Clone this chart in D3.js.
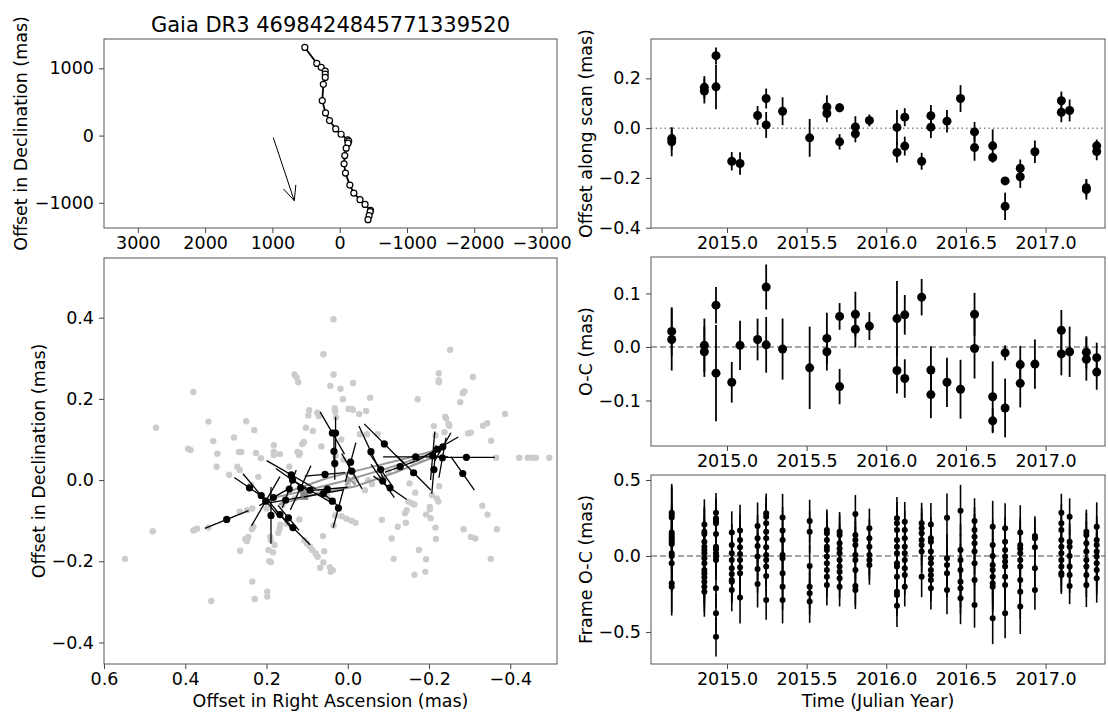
<!DOCTYPE html>
<html>
<head>
<meta charset="utf-8">
<script src="https://cdn.jsdelivr.net/npm/d3@7"></script>
<style>
body{margin:0;background:#fff;}
svg text{font-family:"DejaVu Sans",sans-serif;}
</style>
</head>
<body>
<svg id="chart" width="1108" height="713"></svg>
<script>
//----------data-------------
var sourceName = "Gaia DR3 4698424845771339520";

// sky track (mas)
var trackRA  = [518,340,275,215,215,215,243,259,210,151,59,-21,-118,-134,-124,-97,-76,-65,-86,-151,-210,-302,-377,-458,-453,-437,-421];
var trackDec = [1311,1074,1015,960,915,866,762,519,337,223,99,20,-64,-83,-113,-187,-297,-420,-558,-736,-855,-954,-1024,-1113,-1132,-1191,-1251];
var arrowRA  = [987,675];
var arrowDec = [-30,-969];

// per-observation (two FoV) values
var obsTime = [2014.653,2014.653,2014.858,2014.858,2014.931,2014.931,2015.030,2015.082,2015.192,2015.246,2015.246,2015.349,2015.519,2015.627,2015.627,2015.707,2015.707,2015.806,2015.806,2015.894,2016.067,2016.067,2016.116,2016.116,2016.222,2016.280,2016.280,2016.381,2016.466,2016.554,2016.554,2016.668,2016.668,2016.746,2016.746,2016.841,2016.841,2016.933,2017.099,2017.099,2017.151,2017.256,2017.256,2017.321,2017.321];
var alOffset = [-0.042,-0.055,0.164,0.149,0.291,0.166,-0.133,-0.142,0.051,0.119,0.013,0.068,-0.039,0.085,0.059,0.082,-0.055,0.005,-0.023,0.031,0.003,-0.098,0.044,-0.072,-0.133,0.050,0.004,0.028,0.119,-0.015,-0.078,-0.071,-0.118,-0.212,-0.314,-0.161,-0.195,-0.095,0.110,0.064,0.071,-0.239,-0.247,-0.071,-0.094];
var alError  = [0.045,0.058,0.045,0.05,0.033,0.09,0.037,0.045,0.038,0.04,0.052,0.056,0.076,0.047,0.035,0.018,0.031,0.043,0.034,0.024,0.07,0.04,0.036,0.038,0.034,0.043,0.044,0.045,0.054,0.04,0.053,0.066,0.02,0.01,0.055,0.035,0.045,0.045,0.037,0.04,0.044,0.035,0.04,0.025,0.035];
var ocOffset = [0.029,0.014,0.003,-0.009,0.078,-0.049,-0.066,0.003,0.014,0.112,0.004,-0.004,-0.039,0.016,-0.009,0.057,-0.074,0.061,0.033,0.039,0.053,-0.044,0.060,-0.059,0.093,-0.043,-0.089,-0.066,-0.079,0.061,-0.003,-0.093,-0.138,-0.011,-0.114,-0.033,-0.068,-0.032,0.031,-0.013,-0.009,-0.010,-0.023,-0.020,-0.047];
var ocError  = [0.045,0.058,0.05,0.047,0.034,0.09,0.038,0.046,0.039,0.042,0.052,0.057,0.077,0.048,0.035,0.025,0.033,0.042,0.034,0.026,0.07,0.043,0.037,0.036,0.034,0.044,0.044,0.046,0.055,0.04,0.056,0.066,0.023,0.014,0.055,0.035,0.045,0.046,0.038,0.04,0.047,0.03,0.04,0.028,0.033];

// per-epoch frame residuals
var epochTime = [2014.653,2014.858,2014.931,2015.030,2015.082,2015.192,2015.246,2015.349,2015.519,2015.627,2015.707,2015.806,2015.894,2016.067,2016.116,2016.222,2016.280,2016.381,2016.466,2016.554,2016.668,2016.746,2016.841,2016.933,2017.099,2017.151,2017.256,2017.321];
var frameOC = [
 [0.285,0.27,0.254,0.154,0.138,0.123,0.105,0.092,0.079,0.018,0,-0.048,-0.18,-0.202],
 [0.208,0.16,0.145,0.094,0.061,0.04,0.018,-0.015,-0.048,-0.092,-0.114,-0.14,-0.169,-0.202,-0.235],
 [0.285,0.248,0.232,0.215,0.145,0.061,0.044,0.018,-0.004,-0.026,-0.213,-0.377,-0.531],
 [0.154,0.072,0.018,-0.026,-0.081,-0.118,-0.158,-0.169,-0.224],
 [0.167,0.105,0.057,0.013,-0.026,-0.075,-0.114,-0.274],
 [0.197,0.116,0.066,-0.004,-0.086,-0.184],
 [0.281,0.259,0.215,0.16,0.116,0.057,0.007,-0.026,-0.07,-0.132,-0.289],
 [0.254,0.167,0.105,0.007,-0.015,-0.114,-0.202,-0.289],
 [0.23,0.16,-0.066,-0.202,-0.246,-0.3],
 [0.171,0.149,0.105,0.061,0.04,-0.004,-0.048,-0.092,-0.136,-0.191],
 [0.16,0.138,0.083,0.05,0.018,-0.026,-0.07,-0.103,-0.147,-0.202],
 [0.276,0.138,0.105,0.072,0.007,-0.026,-0.092,-0.197,-0.224],
 [0.182,0.116,0.061,0.007,-0.026,-0.059],
 [0.248,0.215,0.171,0.105,0.061,0.018,-0.048,-0.07,-0.136,-0.235,-0.257,-0.327],
 [0.226,0.171,0.116,0.061,0.018,-0.026,-0.081,-0.125,-0.202],
 [0.215,0.182,0.149,0.105,0.072,0.029,-0.136],
 [0.208,0.116,0.094,0.029,-0.015,-0.048,-0.092,-0.125,-0.158,-0.213],
 [0.252,-0.015,-0.059,-0.114,-0.224],
 [0.298,0.039,-0.026,-0.092,-0.169,-0.213,-0.279],
 [0.23,0.171,0.127,0.083,0.029,-0.048,-0.158,-0.322],
 [0.193,0.072,0,-0.059,-0.092,-0.136,-0.18,-0.202,-0.41],
 [0.182,0.094,0.039,-0.004,-0.037,-0.07,-0.136,-0.191,-0.377],
 [0.154,0.072,0.05,0.018,-0.026,-0.07,-0.158,-0.235,-0.333],
 [0.132,0.116,0.057,-0.081,-0.224],
 [0.285,0.215,0.171,0.105,0.061,0.018,-0.026,-0.07,-0.114,-0.125],
 [0.259,0.094,0.061,0,-0.07,-0.125,-0.197],
 [0.16,0.138,0.083,0.029,-0.026,-0.07,-0.125,-0.191],
 [0.193,0.105,0.072,0.029,-0.004,-0.048,-0.092,-0.147]
];
var frameErr = [0.19,0.165,0.13,0.14,0.17,0.155,0.13,0.155,0.14,0.135,0.13,0.125,0.13,0.14,0.13,0.135,0.14,0.16,0.17,0.15,0.17,0.165,0.18,0.13,0.125,0.12,0.145,0.16];

// residual sky plane: frame positions (grey) [ra, dec]
var framePts = [
 [0.472,0.129],[0.380,0.217],[0.393,0.077],[0.387,0.074],[0.343,0.144],[0.331,0.096],[0.321,0.065],[0.280,0.105],[0.250,0.145],[0.230,0.123],
 [0.268,0.069],[0.262,0.069],[0.226,0.067],[0.214,0.054],[0.182,0.086],[0.182,0.070],[0.182,0.062],[0.167,0.064],[0.131,0.260],[0.126,0.253],
 [0.122,0.241],[0.124,0.069],[0.120,0.062],[0.118,0.066],[0.112,0.089],[0.108,0.094],[0.103,0.129],[0.095,0.172],[0.097,0.159],[0.086,0.121],
 [0.075,0.166],[0.071,0.158],[0.065,0.083],[0.060,0.310],[0.043,0.232],[0.035,0.396],[0.035,0.260],[0.032,0.177],[0.031,0.169],[0.029,0.155],
 [0.018,0.225],[0.016,0.100],[0.012,0.199],[-0.002,0.175],[-0.010,0.175],[-0.013,0.173],[-0.013,0.239],[-0.028,0.163],[-0.045,0.170],[-0.055,0.203],
 [-0.030,0.113],[-0.047,0.113],[-0.074,0.113],[-0.172,0.199],[-0.212,0.133],[-0.216,0.110],[-0.224,0.263],[-0.224,0.246],[-0.224,0.241],[-0.238,0.118],
 [-0.240,0.156],[-0.242,0.152],[-0.248,0.138],[-0.250,0.134],[-0.252,0.321],[-0.277,0.192],[-0.283,0.214],[-0.287,0.218],[-0.296,0.115],[-0.303,0.117],
 [-0.308,0.254],[-0.333,0.134],[-0.343,0.140],[-0.353,0.097],[-0.365,0.055],[-0.387,0.163],[-0.422,0.055],[-0.443,0.055],[-0.455,0.055],[-0.463,0.055],
 [-0.496,0.055],[0.323,0.033],[0.292,0.013],[0.272,0.033],[0.266,0.025],[0.238,-0.012],[0.220,0.008],[0.144,0.033],[0.480,-0.126],[0.548,-0.194],
 [0.380,-0.124],[0.376,-0.122],[0.371,-0.120],[0.343,-0.117],[0.266,-0.078],[0.248,-0.074],[0.235,-0.070],[0.232,-0.115],[0.236,-0.121],[0.252,-0.145],
 [0.248,-0.150],[0.245,-0.140],[0.265,-0.174],[0.235,-0.250],[0.229,-0.293],[0.198,-0.275],[0.198,-0.287],[0.336,-0.298],[0.195,-0.172],[0.184,-0.178],
 [0.193,-0.200],[0.189,-0.202],[0.191,-0.140],[0.189,-0.148],[0.180,-0.160],[0.166,-0.110],[0.168,-0.120],[0.171,-0.130],[0.150,-0.107],[0.119,-0.097],
 [0.107,-0.148],[0.101,-0.156],[0.093,-0.164],[0.087,-0.172],[0.079,-0.181],[0.074,-0.189],[0.068,-0.216],[0.060,-0.203],[0.044,-0.215],[0.037,-0.222],
 [0.042,-0.226],[0.061,-0.138],[0.058,-0.175],[0.035,-0.112],[0.031,-0.087],[0.015,-0.089],[0.003,-0.095],[-0.009,-0.100],[-0.019,-0.105],[-0.042,-0.025],
 [-0.084,-0.098],[-0.108,-0.144],[-0.113,-0.194],[-0.123,-0.115],[-0.141,-0.082],[-0.145,-0.074],[-0.143,-0.105],[-0.152,-0.008],[-0.164,-0.233],[-0.166,-0.031],
 [-0.149,-0.053],[-0.157,-0.057],[-0.164,-0.060],[-0.175,-0.172],[-0.193,-0.195],[-0.191,-0.226],[-0.193,-0.085],[-0.204,-0.094],[-0.202,-0.066],[-0.202,-0.072],
 [-0.207,-0.037],[-0.219,-0.045],[-0.223,-0.053],[-0.216,-0.117],[-0.217,-0.145],[-0.225,-0.015],[-0.285,-0.121],[-0.303,-0.140],[-0.314,-0.144],[-0.331,-0.063],
 [-0.344,-0.085],[-0.352,-0.194],[-0.367,-0.121],[0.000,-0.010],[-0.020,0.000],[-0.050,0.000],[-0.060,-0.010],[-0.100,0.020],[-0.120,0.030],[-0.160,0.045],
 [-0.180,0.050],[-0.200,0.058],[0.050,-0.040],[0.070,-0.030],[0.100,-0.030],[0.130,-0.045],[0.160,-0.060],[0.200,-0.070],[0.030,0.060],[0.010,0.050]
];

// epoch positions with scan direction: [ra, dec, scan angle (deg), half length (mas)]
var scanPts = [
 [0.298,-0.097,22,0.058],[0.242,-0.019,-34,0.045],[0.213,-0.038,-50,0.07],[0.202,-0.052,60,0.07],[0.183,-0.043,30,0.04],
 [0.189,-0.087,90,0.07],[0.167,-0.085,-50,0.05],[0.146,-0.093,-50,0.04],[0.135,-0.117,-45,0.06],[0.153,-0.049,10,0.04],
 [0.144,-0.022,70,0.05],[0.139,0.013,-30,0.07],[0.136,0.0,-35,0.05],[0.116,-0.019,65,0.06],[0.093,-0.025,-30,0.06],
 [0.056,0.014,5,0.05],[0.060,-0.033,10,0.05],[0.050,-0.022,5,0.05],[0.038,-0.052,-40,0.03],[0.023,-0.069,75,0.05],
 [0.034,0.071,90,0.04],[0.032,0.041,90,0.04],[-0.007,0.044,75,0.05],[-0.010,0.022,-60,0.05],[-0.057,0.070,-65,0.07],
 [-0.081,0.026,-55,0.05],[-0.086,-0.002,-55,0.05],[-0.104,-0.019,-35,0.05],[-0.129,0.033,20,0.04],[-0.162,0.018,-45,0.06],
 [-0.167,0.057,0,0.08],[-0.090,0.089,-45,0.07],[-0.209,0.060,85,0.06],[-0.212,0.026,85,0.06],[-0.233,0.055,80,0.05],
 [-0.292,0.056,0,0.07],[-0.283,0.016,-55,0.05],[-0.220,0.076,30,0.06],[-0.234,0.082,60,0.04],[0.038,0.116,-60,0.06],
 [0.030,0.116,90,0.04]
];
// model track in residual plane
var modelTracks = [
 [[0.19,-0.045],[0.10,-0.025],[0.0,0.0],[-0.10,0.03],[-0.22,0.07]],
 [[0.17,-0.06],[0.08,-0.035],[-0.02,-0.015],[-0.12,0.02],[-0.22,0.06]],
 [[0.15,-0.03],[0.05,0.005],[-0.05,0.03],[-0.15,0.055],[-0.23,0.077]]
];
var refSquare = [0.107,-0.039];
var refCross = [-0.007,0.0];

var tlXTicks = [3000,2000,1000,0,-1000,-2000,-3000];
var tlYTicks = [1000,0,-1000];
var blTicks = [0.6,0.4,0.2,0.0,-0.2,-0.4];
var timeTicks = [2015.0,2015.5,2016.0,2016.5,2017.0];

//----------layout-------------
var svg = d3.select("#chart");
var fs = 17.5;

var boxTL = {x:104, y:39, w:453, h:189};
var boxBL = {x:104, y:258, w:453, h:406};
var boxR1 = {x:651, y:39, w:454, h:189};
var boxR2 = {x:651, y:257, w:454, h:189};
var boxR3 = {x:651, y:475, w:454, h:189};

var drawAxes = function(box, xScale, yScale, xTicks, yTicks, xFmt, yFmt)
{
	var gx = svg.append("g")
		.attr("transform","translate(0," + (box.y + box.h) + ")")
		.call(d3.axisBottom(xScale).tickValues(xTicks).tickFormat(xFmt).tickSize(5).tickPadding(4));
	var gy = svg.append("g")
		.attr("transform","translate(" + box.x + ",0)")
		.call(d3.axisLeft(yScale).tickValues(yTicks).tickFormat(yFmt).tickSize(5).tickPadding(5));
	[gx,gy].forEach(function(g)
	{
		g.attr("font-size",null).attr("font-family",null);
		g.select(".domain").remove();
		g.selectAll(".tick text").style("font-size",fs+"px").style("fill","#000");
		g.selectAll(".tick line").style("stroke","#444");
	});
	svg.append("rect")
		.attr("x",box.x).attr("y",box.y)
		.attr("width",box.w).attr("height",box.h)
		.attr("fill","none").attr("stroke","#555").attr("stroke-width",1);
}

var yLabel = function(text, x, box)
{
	svg.append("text")
		.attr("transform","translate(" + x + "," + (box.y + box.h/2) + ") rotate(-90)")
		.attr("text-anchor","middle")
		.style("font-size",fs+"px")
		.text(text);
}
var xLabel = function(text, box, y)
{
	svg.append("text")
		.attr("x",box.x + box.w/2).attr("y",y)
		.attr("text-anchor","middle")
		.style("font-size",fs+"px")
		.text(text);
}

//----------top left: sky track-------------
var drawTrack = function()
{
	var x = d3.scaleLinear().domain([3503,-3230]).range([boxTL.x, boxTL.x + boxTL.w]);
	var y = d3.scaleLinear().domain([-1375,1437]).range([boxTL.y + boxTL.h, boxTL.y]);
	var idx = d3.range(trackRA.length);

	svg.append("path")
		.datum(idx)
		.attr("fill","none").attr("stroke","#000").attr("stroke-width",1.8)
		.attr("d", d3.line().x(function(i){return x(trackRA[i])}).y(function(i){return y(trackDec[i])}));

	svg.append("g").selectAll("circle")
		.data(idx).enter().append("circle")
		.attr("cx",function(i){return x(trackRA[i])})
		.attr("cy",function(i){return y(trackDec[i])})
		.attr("r",3)
		.attr("fill","#fff").attr("stroke","#000").attr("stroke-width",1.2);

	// proper motion arrow
	var x0 = x(arrowRA[0]), y0 = y(arrowDec[0]), x1 = x(arrowRA[1]), y1 = y(arrowDec[1]);
	var ang = Math.atan2(y1 - y0, x1 - x0);
	var head = 16, spread = 0.42;
	var path = "M" + x0 + "," + y0 + "L" + x1 + "," + y1 +
		"M" + (x1 - head*Math.cos(ang - spread)) + "," + (y1 - head*Math.sin(ang - spread)) + "L" + x1 + "," + y1 +
		"L" + (x1 - head*Math.cos(ang + spread)) + "," + (y1 - head*Math.sin(ang + spread));
	svg.append("path").attr("d",path).attr("fill","none").attr("stroke","#000").attr("stroke-width",1);

	drawAxes(boxTL, x, y, tlXTicks, tlYTicks, d3.format("d"), d3.format("d"));
	yLabel("Offset in Declination (mas)", 27, boxTL);
	svg.append("text")
		.attr("x",boxTL.x + boxTL.w/2).attr("y",31.5)
		.attr("text-anchor","middle")
		.style("font-size","21px")
		.text(sourceName);
}

//----------bottom left: residual sky plane-------------
var drawResidualSky = function()
{
	var x = d3.scaleLinear().domain([0.6,-0.515]).range([boxBL.x, boxBL.x + boxBL.w]);
	var y = d3.scaleLinear().domain([-0.453,0.547]).range([boxBL.y + boxBL.h, boxBL.y]);

	svg.append("g").selectAll("circle")
		.data(framePts).enter().append("circle")
		.attr("cx",function(d){return x(d[0])})
		.attr("cy",function(d){return y(d[1])})
		.attr("r",3.2)
		.attr("fill","#cccccc");

	var line = d3.line().x(function(d){return x(d[0])}).y(function(d){return y(d[1])});
	svg.append("g").selectAll("path")
		.data(modelTracks).enter().append("path")
		.attr("d",line)
		.attr("fill","none").attr("stroke","#999").attr("stroke-width",2);

	svg.append("rect")
		.attr("x",x(refSquare[0]) - 4).attr("y",y(refSquare[1]) - 4)
		.attr("width",8).attr("height",8)
		.attr("fill","#888");
	var cx = x(refCross[0]), cy = y(refCross[1]);
	svg.append("path")
		.attr("d","M" + (cx-5) + "," + (cy-5) + "L" + (cx+5) + "," + (cy+5) + "M" + (cx-5) + "," + (cy+5) + "L" + (cx+5) + "," + (cy-5))
		.attr("stroke","#999").attr("stroke-width",2);

	// scan direction segments: screen right is decreasing RA
	svg.append("g").selectAll("line")
		.data(scanPts).enter().append("line")
		.attr("x1",function(d){return x(d[0] + d[3]*Math.cos(d[2]*Math.PI/180))})
		.attr("y1",function(d){return y(d[1] - d[3]*Math.sin(d[2]*Math.PI/180))})
		.attr("x2",function(d){return x(d[0] - d[3]*Math.cos(d[2]*Math.PI/180))})
		.attr("y2",function(d){return y(d[1] + d[3]*Math.sin(d[2]*Math.PI/180))})
		.attr("stroke","#000").attr("stroke-width",1.3);
	svg.append("g").selectAll("circle")
		.data(scanPts).enter().append("circle")
		.attr("cx",function(d){return x(d[0])})
		.attr("cy",function(d){return y(d[1])})
		.attr("r",3.6)
		.attr("fill","#000");

	drawAxes(boxBL, x, y, blTicks, blTicks.slice(1), d3.format(".1f"), d3.format(".1f"));
	yLabel("Offset in Declination (mas)", 45, boxBL);
	xLabel("Offset in Right Ascension (mas)", boxBL, 707);
}

//----------right: time series-------------
var xTime = d3.scaleLinear().domain([2014.523,2017.373]).range([boxR1.x, boxR1.x + boxR1.w]);

var drawSeries = function(box, yDomain, yTicks, times, vals, errs, dash)
{
	var y = d3.scaleLinear().domain(yDomain).range([box.y + box.h, box.y]);
	svg.append("line")
		.attr("x1",box.x).attr("x2",box.x + box.w)
		.attr("y1",y(0)).attr("y2",y(0))
		.attr("stroke","#888").attr("stroke-width",1.5)
		.attr("stroke-dasharray",dash);
	var idx = d3.range(vals.length);
	svg.append("g").selectAll("line")
		.data(idx).enter().append("line")
		.attr("x1",function(i){return xTime(times[i])})
		.attr("x2",function(i){return xTime(times[i])})
		.attr("y1",function(i){return y(vals[i] - errs[i])})
		.attr("y2",function(i){return y(vals[i] + errs[i])})
		.attr("stroke","#000").attr("stroke-width",1.8);
	svg.append("g").selectAll("circle")
		.data(idx).enter().append("circle")
		.attr("cx",function(i){return xTime(times[i])})
		.attr("cy",function(i){return y(vals[i])})
		.attr("r",4.5)
		.attr("fill","#000");
	drawAxes(box, xTime, y, timeTicks, yTicks, d3.format(".1f"), d3.format(".1f"));
}

var drawFrames = function()
{
	var box = boxR3;
	var y = d3.scaleLinear().domain([-0.711,0.533]).range([box.y + box.h, box.y]);
	svg.append("line")
		.attr("x1",box.x).attr("x2",box.x + box.w)
		.attr("y1",y(0)).attr("y2",y(0))
		.attr("stroke","#888").attr("stroke-width",1.5)
		.attr("stroke-dasharray","6,3");
	var pts = [];
	frameOC.forEach(function(list, e)
	{
		list.forEach(function(v){ pts.push({t:epochTime[e], v:v, err:frameErr[e]}) });
	});
	svg.append("g").selectAll("line")
		.data(pts).enter().append("line")
		.attr("x1",function(d){return xTime(d.t)})
		.attr("x2",function(d){return xTime(d.t)})
		.attr("y1",function(d){return y(d.v - d.err)})
		.attr("y2",function(d){return y(d.v + d.err)})
		.attr("stroke","#000").attr("stroke-width",1.6);
	svg.append("g").selectAll("circle")
		.data(pts).enter().append("circle")
		.attr("cx",function(d){return xTime(d.t)})
		.attr("cy",function(d){return y(d.v)})
		.attr("r",3)
		.attr("fill","#000");
	drawAxes(box, xTime, y, timeTicks, [0.5,0.0,-0.5], d3.format(".1f"), d3.format(".1f"));
	yLabel("Frame O-C (mas)", 592, box);
	xLabel("Time (Julian Year)", box, 707);
}

drawTrack();
drawResidualSky();
drawSeries(boxR1, [-0.401,0.358], [0.2,0.0,-0.2,-0.4], obsTime, alOffset, alError, "1.5,3");
yLabel("Offset along scan (mas)", 592, boxR1);
drawSeries(boxR2, [-0.185,0.168], [0.1,0.0,-0.1], obsTime, ocOffset, ocError, "6,3");
yLabel("O-C (mas)", 592, boxR2);
drawFrames();
</script>
</body>
</html>
